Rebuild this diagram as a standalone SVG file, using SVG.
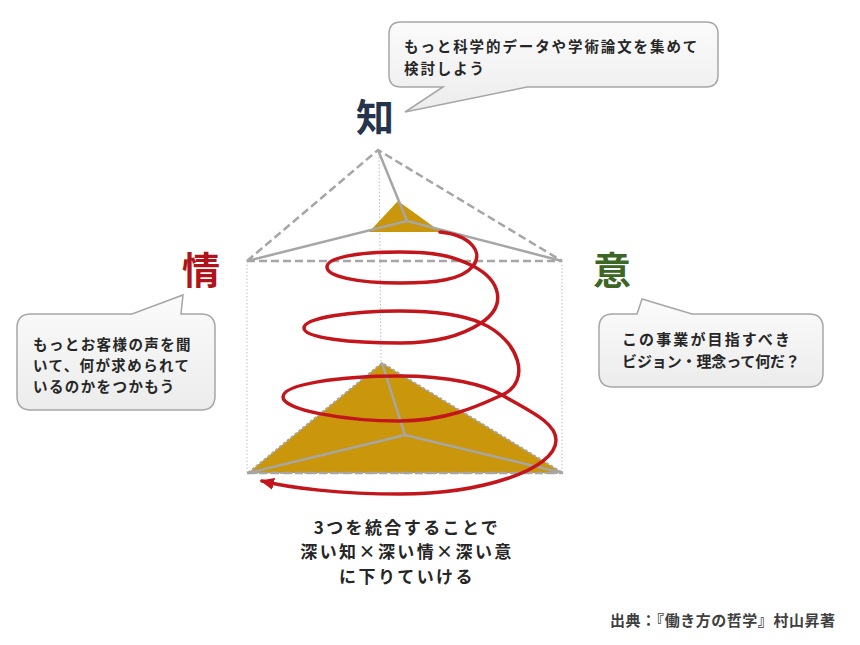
<svg xmlns="http://www.w3.org/2000/svg" width="860" height="645" viewBox="0 0 860 645">
<style>
.txt{font-family:"Noto Sans CJK JP","Noto Sans",sans-serif;font-weight:bold;fill:#262626}
.big{font-family:"Noto Sans CJK JP",sans-serif;font-weight:bold;font-size:38px}
.callout{fill:url(#cg);stroke:#a6a6a6;stroke-width:1.5}
.dash{fill:none;stroke:#a6a6a6;stroke-width:2.5;stroke-dasharray:8 4}
.dot{fill:none;stroke:#bfbfbf;stroke-width:1;stroke-dasharray:1.5 2}
.edge{fill:none;stroke:#a6a6a6;stroke-width:2.5}
.gold{fill:#c9960c}
.spiral{fill:none;stroke:#c3161c;stroke-width:3.5;stroke-linecap:round;stroke-linejoin:round}
</style>
<defs>
<linearGradient id="cg" x1="0" y1="0" x2="0" y2="1">
<stop offset="0" stop-color="#fbfbfb"/>
<stop offset="1" stop-color="#ececec"/>
</linearGradient>
<marker id="ah" markerUnits="userSpaceOnUse" markerWidth="14" markerHeight="12" refX="12" refY="6" orient="auto">
<path d="M0,0 L14,6 L0,12 z" fill="#c3161c"/>
</marker>
</defs>
<rect width="860" height="645" fill="#ffffff"/>

<g id="pyramid">
<line class="dot" x1="247" y1="261" x2="247" y2="473"/>
<line class="dot" x1="562" y1="261" x2="562" y2="473"/>
<line class="dot" x1="379" y1="150" x2="381" y2="363"/>
<polygon class="gold" points="382,363 248,473 563,473" stroke="#a6a6a6" stroke-width="2" stroke-dasharray="3 2"/>
<polyline class="edge" points="382,363 405,435 248,473"/>
<line class="edge" x1="405" y1="435" x2="563" y2="473"/>
<line class="dash" x1="247" y1="473" x2="562" y2="473"/>
<polygon class="gold" points="398,201 369,232 441,232"/>
<polyline class="dash" points="247,261 378,150 562,261"/>
<line class="dash" x1="247" y1="261" x2="562" y2="261"/>
<polyline class="edge" points="378,150 407,221 247,261"/>
<line class="edge" x1="407" y1="221" x2="562" y2="261"/>
</g>

<g id="connectors">
<path class="spiral" marker-end="url(#ah)" d="M440,232 C470,235 484,252 473,266 C462,280 435,283 400,283 C355,283 327,276 327,267 C327,258 355,252 400,252 C435,252 453,256 473,266 C500,280 508,305 481,323 C466,333 440,343 400,343 C350,343 304,338 304,328 C304,318 350,311 400,311 C440,311 463,315 481,323 C520,340 532,382 502,395 C484,403 450,421 400,421 C345,421 283,410 283,397 C283,384 340,376 400,376 C450,376 485,385 502,395 C527,410 556,422 556,440 C556,470 480,494 400,494 C340,494 290,488 262,481"/>
</g>

<g id="node-chi">
<text class="big" x="375" y="131" text-anchor="middle" fill="#26334d">知</text>
</g>
<g id="node-jo">
<text class="big" x="201" y="284" text-anchor="middle" fill="#b0141a">情</text>
</g>
<g id="node-i">
<text class="big" x="612" y="284" text-anchor="middle" fill="#3b6626">意</text>
</g>

<g id="callout-chi">
<path class="callout" d="M401,22 H706 Q718,22 718,34 V75 Q718,87 706,87 H527 L405,112 L443,87 H401 Q389,87 389,75 V34 Q389,22 401,22 Z"/>
<text class="txt" font-size="14.5" letter-spacing="1.9"><tspan x="404" y="52">もっと科学的データや学術論文を集めて</tspan><tspan x="404" y="73.5">検討しよう</tspan></text>
</g>

<g id="callout-jo">
<path class="callout" d="M31,314 H132 L183,295 L181,314 H201 Q215,314 215,328 V396 Q215,410 201,410 H31 Q17,410 17,396 V328 Q17,314 31,314 Z"/>
<text class="txt" font-size="14.5" letter-spacing="1.4"><tspan x="33" y="350">もっとお客様の声を聞</tspan><tspan x="33" y="371">いて、何が求められて</tspan><tspan x="33" y="392">いるのかをつかもう</tspan></text>
</g>

<g id="callout-i">
<path class="callout" d="M613,314 H637 L642,299 L692,314 H809 Q823,314 823,328 V373 Q823,387 809,387 H613 Q599,387 599,373 V328 Q599,314 613,314 Z"/>
<text class="txt" font-size="15"><tspan x="622" y="345" textLength="168" lengthAdjust="spacing">この事業が目指すべき</tspan><tspan x="622" y="367" textLength="178" lengthAdjust="spacing">ビジョン・理念って何だ？</tspan></text>
</g>

<g id="summary">
<text class="txt" font-size="17" letter-spacing="2.4" text-anchor="middle"><tspan x="407" y="533.5">3つを統合することで</tspan><tspan x="407" y="558">深い知×深い情×深い意</tspan><tspan x="407" y="582.5">に下りていける</tspan></text>
</g>

<g id="source">
<text class="txt" font-size="15" x="610" y="626" textLength="225" lengthAdjust="spacing" style="fill:#404040">出典：『働き方の哲学』村山昇著</text>
</g>
</svg>
